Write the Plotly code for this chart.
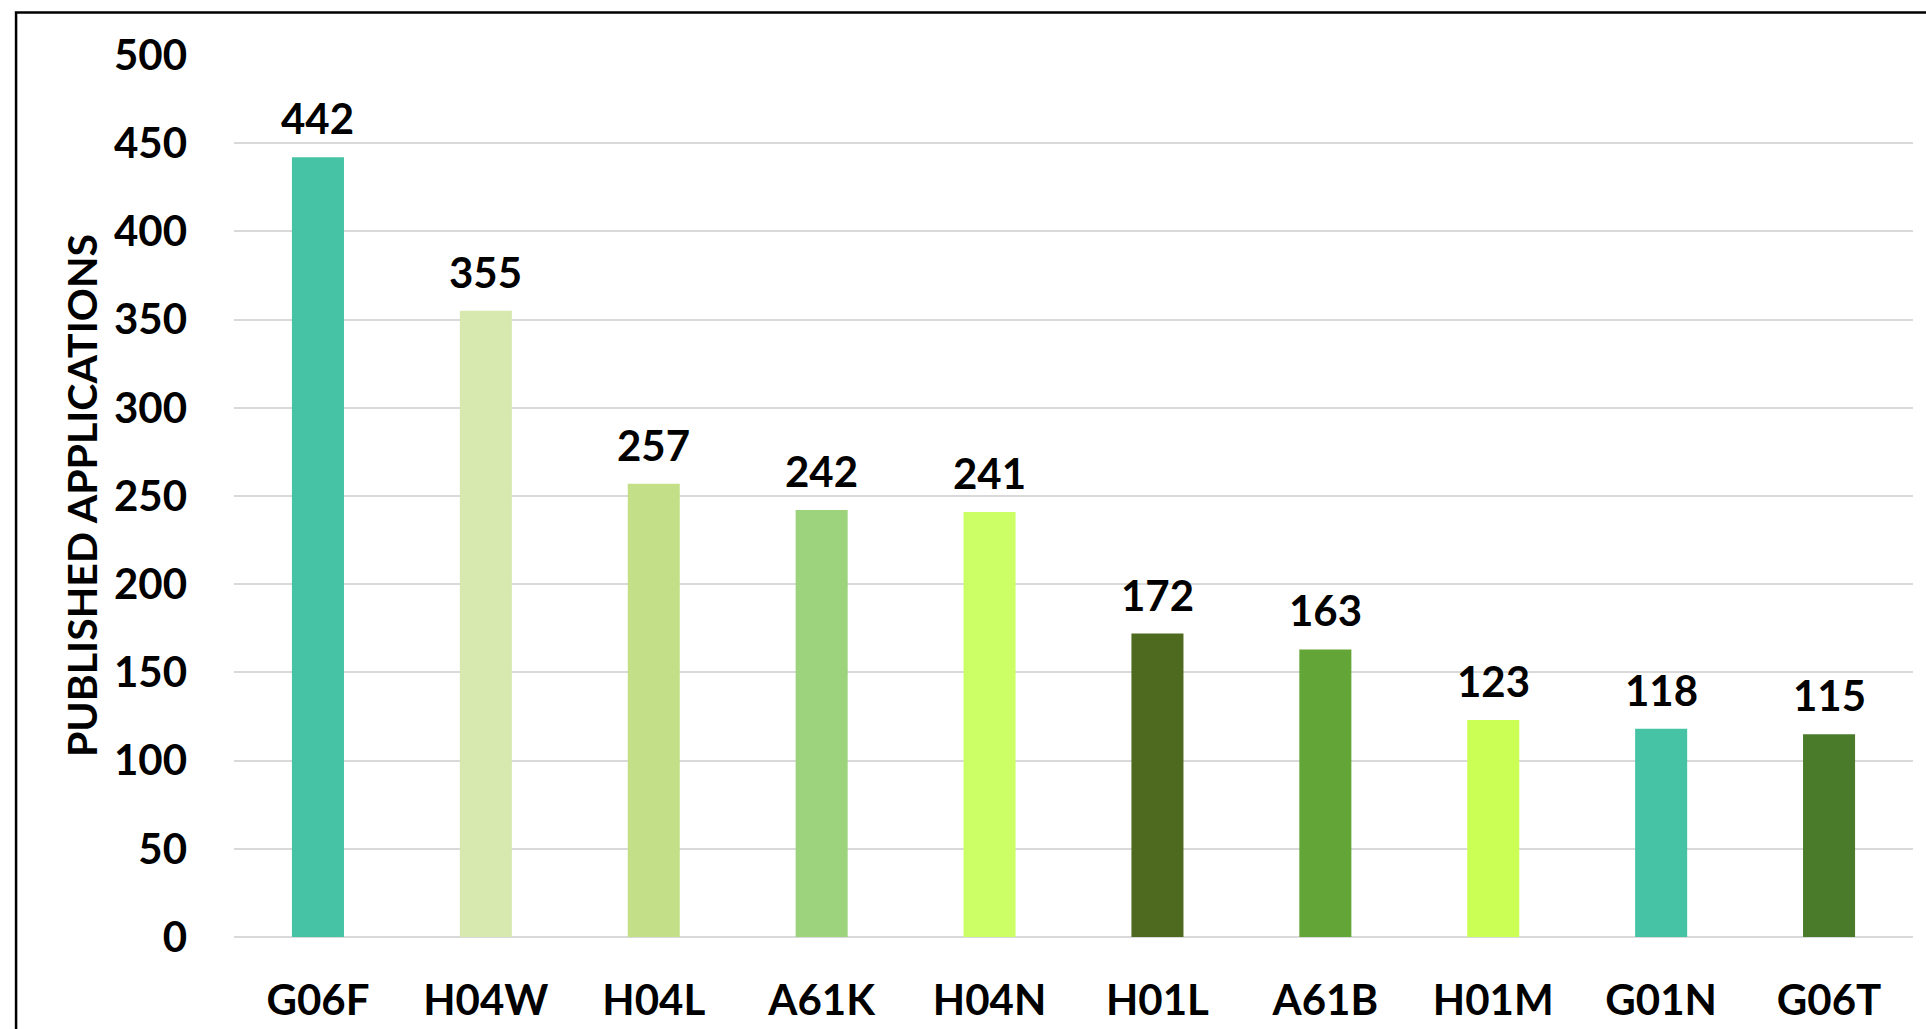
import plotly.graph_objects as go

categories = ["G06F", "H04W", "H04L", "A61K", "H04N", "H01L", "A61B", "H01M", "G01N", "G06T"]
values = [442, 355, 257, 242, 241, 172, 163, 123, 118, 115]
bar_colors = ["#46C2A4", "#D7E9AF", "#C3E089", "#9ED37D", "#CCFF66",
              "#4E6A1E", "#63A537", "#CCFF55", "#46C2A5", "#4A7B2B"]
y_ticks = [0, 50, 100, 150, 200, 250, 300, 350, 400, 450, 500]
y_title = "PUBLISHED APPLICATIONS"

FONT = "Lato, 'Open Sans', sans-serif"
FS = 42

fig = go.Figure()
fig.add_trace(go.Bar(
    x=categories, y=values,
    marker=dict(color=bar_colors, line=dict(width=0)),
    hoverinfo="x+y",
))

for c, v in zip(categories, values):
    fig.add_annotation(x=c, y=v, text=f"<b>{v}</b>", showarrow=False,
                       yanchor="bottom", yshift=12,
                       font=dict(family=FONT, size=FS, color="#000000"))

fig.add_annotation(xref="paper", yref="paper", x=-0.0911, y=0.5,
                   text=f"<b>{y_title}</b>", textangle=-90, showarrow=False,
                   xanchor="center", yanchor="middle",
                   font=dict(family=FONT, size=41, color="#000000"))

# outer border (cropped chart frame)
fig.add_shape(type="rect", xref="paper", yref="paper",
              x0=-0.1298, x1=1.05, y0=-0.2, y1=1.0482,
              line=dict(color="#000000", width=2.5), fillcolor="rgba(0,0,0,0)",
              layer="below")

fig.update_layout(
    width=1926, height=1029,
    margin=dict(l=234, r=13, t=55, b=92, autoexpand=False),
    paper_bgcolor="#FFFFFF", plot_bgcolor="#FFFFFF",
    showlegend=False,
    bargap=0.69,
    font=dict(family=FONT, size=FS, color="#000000"),
    xaxis=dict(
        type="category", automargin=False,
        showgrid=False, showline=False, zeroline=False,
        ticks="", ticklabelstandoff=35,
        tickfont=dict(family=FONT, size=FS, color="#000000", weight="bold"),
    ),
    yaxis=dict(
        range=[0, 500], tickvals=y_ticks, automargin=False,
        showgrid=True, gridcolor="#D9D9D9", gridwidth=2,
        zeroline=True, zerolinecolor="#D9D9D9", zerolinewidth=2,
        showline=False, ticks="", ticklabelstandoff=46,
        tickfont=dict(family=FONT, size=FS, color="#000000", weight="bold"),
    ),
)

fig.write_html("out.html", config={"displayModeBar": False},
               post_script="document.body.style.margin='0';document.body.style.overflow='hidden';")
